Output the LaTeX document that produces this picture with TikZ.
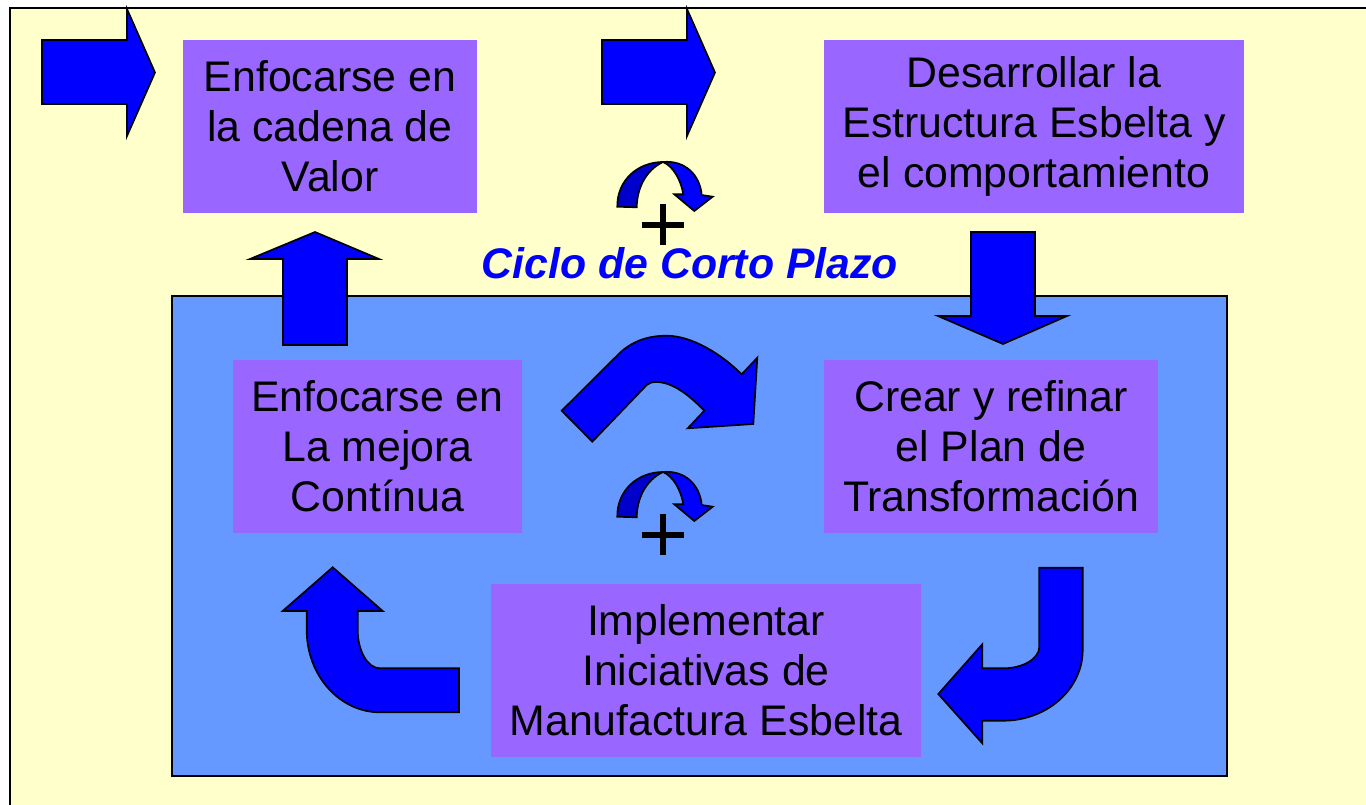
\documentclass[tikz,border=0pt]{standalone}
\usepackage{fontspec}
\setmainfont{Liberation Sans}

\definecolor{paper}{HTML}{FFFFCC}
\definecolor{cyclebg}{HTML}{6699FF}
\definecolor{boxpurple}{HTML}{9966FF}
\definecolor{arrowblue}{HTML}{0000FF}
\definecolor{bandblue}{HTML}{0000CC}

\tikzset{
  box/.style={fill=boxpurple,inner sep=0pt,minimum height=86.5pt,align=center,
    font=\fontsize{21.4}{25}\selectfont},
  blk/.style={fill=arrowblue,draw=black,line width=0.85pt,line join=miter},
  band/.style={fill=bandblue,draw=black,line width=0.85pt},
  plusbar/.style={draw=black,line width=3pt}
}

\begin{document}
\begin{tikzpicture}[x=0.5pt,y=-0.5pt]
  \useasboundingbox (0,0) rectangle (1366,804);
  \fill[white] (0,0) rectangle (1366,804);
  \draw[fill=paper,line width=1pt] (10,8) rectangle (1390,830);
  \draw[fill=cyclebg,line width=1pt] (172,296) rectangle (1227,776);

  \node [box,minimum width=147pt] (val) at (330,126.5) {Enfocarse en\\la cadena de\\Valor};
  \node [box,minimum width=210pt] (est) at (1034,126.5) {Desarrollar la\\Estructura Esbelta y\\el comportamiento};
  \node [box,minimum width=144.5pt] (mej) at (377.5,446.5) {Enfocarse en\\La mejora\\Contínua};
  \node [box,minimum width=167pt] (plan) at (991,446.5) {Crear y refinar\\el Plan de\\Transformación};
  \node [box,minimum width=215pt] (impl) at (706,670.5) {Implementar\\Iniciativas de\\Manufactura Esbelta};
  \node [font=\fontsize{21.4}{25}\selectfont\bfseries\itshape,text=arrowblue] (ciclo) at (690,263) {Ciclo de Corto Plazo};

  \foreach \x in {42,602}
    \draw[blk] (\x,40) -- ++(85,0) -- ++(0,-31) -- ++(28,63.5) -- ++(-28,63.5) -- ++(0,-32) -- ++(-85,0) -- cycle;

  \draw[blk] (315,232) -- (379,259) -- (347,259) -- (347,345) -- (283,345) -- (283,259) -- (250,259) -- cycle;
  \draw[blk] (1003,344) -- (1067,316) -- (1035,316) -- (1035,232) -- (971,232) -- (971,316) -- (938,316) -- cycle;

  \draw[blk] (561.7,410.7) -- (616.7,356) .. controls (631,341) and (648,335.7) .. (666.7,335.7)
    .. controls (692,335.7) and (721.7,354.3) .. (741.7,374.3) -- (757.3,357.7) -- (753.3,424)
    -- (687.7,428.3) -- (704.3,410.7) .. controls (688,394) and (672,382) .. (656,382)
    .. controls (652,382) and (649,383) .. (646.7,385) -- (592.3,441.7) -- cycle;

  \draw[blk] (332.7,567.3) -- (382.7,611) -- (357.7,611) -- (357.7,630)
    .. controls (357.7,651) and (367.7,668.3) .. (380,668.3) -- (459,668.3) -- (459,712.3) -- (380,712.3)
    .. controls (339.5,712.3) and (306.7,675.4) .. (306.7,630) -- (306.7,611) -- (282.7,611) -- cycle;

  \draw[blk] (1039.3,567.7) -- (1082.7,567.7) -- (1082.7,650)
    .. controls (1082.7,689) and (1047,720.7) .. (1003.3,720.7) -- (982.3,720.7) -- (982.3,743.3)
    -- (938.3,694) -- (982.3,644.3) -- (982.3,668.3) -- (1003.3,668.3)
    .. controls (1023.2,668.3) and (1039.3,658.6) .. (1039.3,646.7) -- cycle;

  \foreach \dy in {0,310} {
    \begin{scope}[shift={(0,\dy)}]
      \draw[band] (617.3,206.7) .. controls (617,180) and (638,162) .. (663,162)
        .. controls (646,170) and (637,188) .. (636.7,207.3) -- cycle;
      \draw[blk] (663,162) .. controls (685,160) and (700,175) .. (701.7,195) -- (712.7,196.7)
        -- (694.3,211) -- (674.3,194.3) -- (683.3,194.3) .. controls (681,180) and (673,166) .. (663,162) -- cycle;
      \draw[plusbar] (642.3,225) -- (684,225);
      \draw[plusbar] (662.7,204) -- (662.7,245);
    \end{scope}
  }
\end{tikzpicture}
\end{document}
